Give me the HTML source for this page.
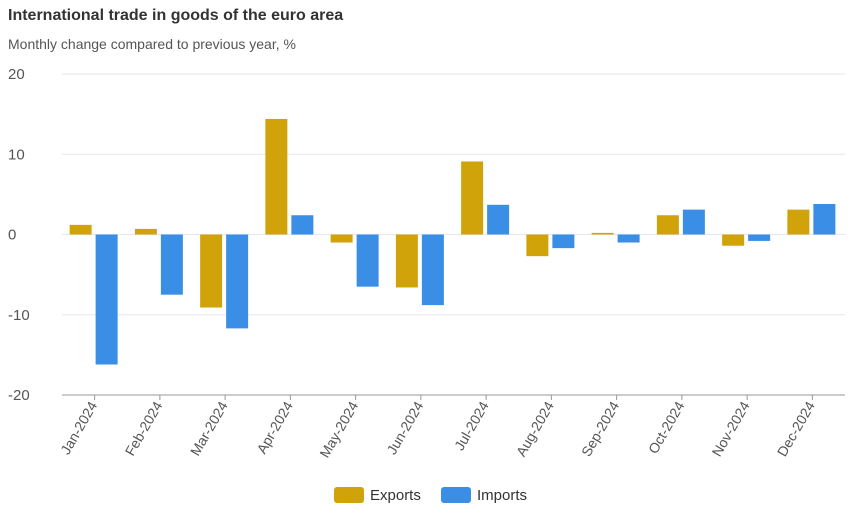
<!DOCTYPE html>
<html><head><meta charset="utf-8"><style>
body{margin:0;background:#fff;font-family:"Liberation Sans",Arial,sans-serif;}
svg text{font-family:"Liberation Sans",Arial,sans-serif;}
</style></head><body>
<svg id="c" width="850" height="513" xmlns="http://www.w3.org/2000/svg">
<text x="8" y="20" font-size="16" font-weight="bold" fill="#333">International trade in goods of the euro area</text>
<text x="8" y="49" font-size="14" fill="#555">Monthly change compared to previous year, %</text>
<g id="grid"></g><g id="bars"></g><g id="xl"></g>
<g>
<rect x="334" y="487" width="30" height="16" rx="3" fill="#d1a30a"/>
<text x="370" y="500" font-size="15" fill="#333">Exports</text>
<rect x="441" y="487" width="30" height="16" rx="3" fill="#3a8ee6"/>
<text x="477" y="500" font-size="15" fill="#333">Imports</text>
</g>
</svg>
<script>
const categories=["Jan-2024","Feb-2024","Mar-2024","Apr-2024","May-2024","Jun-2024","Jul-2024","Aug-2024","Sep-2024","Oct-2024","Nov-2024","Dec-2024"];
const exportsVals=[1.2,0.7,-9.1,14.4,-1.0,-6.6,9.1,-2.7,0.2,2.4,-1.4,3.1];
const importsVals=[-16.2,-7.5,-11.7,2.4,-6.5,-8.8,3.7,-1.7,-1.0,3.1,-0.8,3.8];
const yTicks=[20,10,0,-10,-20];
const NS="http://www.w3.org/2000/svg";
const X0=62,X1=845,Y0=74,Y1=395,VMAX=20,VMIN=-20;
const y=v=>Y0+(VMAX-v)/(VMAX-VMIN)*(Y1-Y0);
const bw=(X1-X0)/categories.length;
const xc=i=>X0+bw*(i+0.5);
function mk(t,a,p){const e=document.createElementNS(NS,t);for(const k in a)e.setAttribute(k,a[k]);p.appendChild(e);return e;}
const g=document.getElementById('grid');
yTicks.forEach(t=>{
 const l=mk('line',{x1:X0,x2:X1,y1:y(t),y2:y(t),stroke:t===-20?'#999':'#e6e6ee','stroke-width':1},g);
 
 
 const tx=mk('text',{x:8,y:y(t)+5,'font-size':15,fill:'#555'},g);tx.textContent=t;
 
 
});
const b=document.getElementById('bars');
function bar(i,v,off,col,name){
 const top=Math.min(y(v),y(0)),h=Math.abs(y(v)-y(0));
 const r=mk('rect',{x:xc(i)+off,y:top,width:22,height:Math.max(h,1),fill:col},b);
 
 
}
const xl=document.getElementById('xl');
categories.forEach((c,i)=>{
 bar(i,exportsVals[i],-25,'#d1a30a','bar-exports');
 bar(i,importsVals[i],1,'#3a8ee6','bar-imports');
 const tk=mk('line',{x1:xc(i),x2:xc(i),y1:Y1,y2:Y1+5,stroke:'#999'},xl);
 
 
 const t=mk('text',{x:xc(i)+3,y:Y1+10,'font-size':14,fill:'#555','text-anchor':'end',transform:`rotate(-60 ${xc(i)+3} ${Y1+10})`},xl);
 t.textContent=c;
 
 
});
</script>
</body></html>
